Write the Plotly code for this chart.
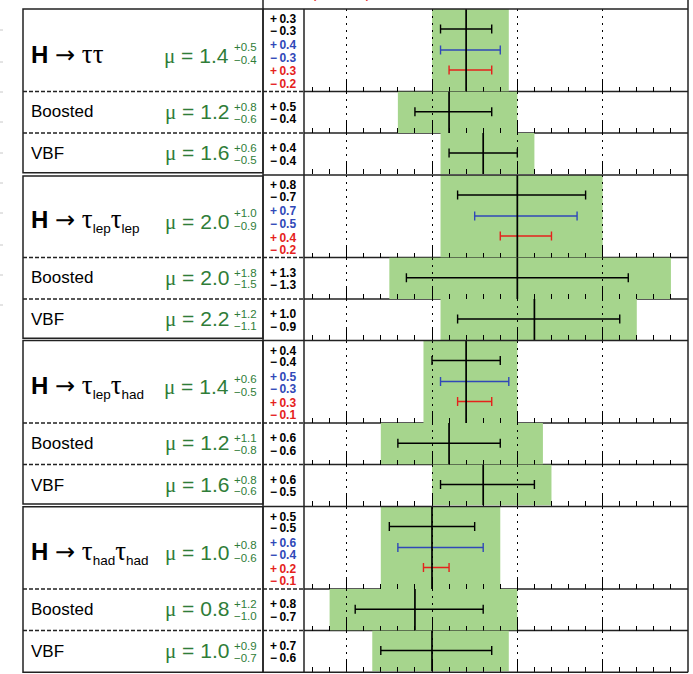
import plotly.graph_objects as go

# ---- signal strength per channel (combined row + Boosted + VBF categories) ----
SERIF = "font-family:Liberation Serif"
ARROW = '<span style="font-family:DejaVu Sans">→</span>'


def tau(sub=None):
    t = f'<span style="{SERIF};font-size:27px">τ</span>'
    if sub:
        t += f'<sub><span style="font-size:13.5px">{sub}</span></sub>'
    return t


channel_titles = [
    f"<b>H</b> {ARROW} {tau()}{tau()}",
    f"<b>H</b> {ARROW} {tau('lep')}{tau('lep')}",
    f"<b>H</b> {ARROW} {tau('lep')}{tau('had')}",
    f"<b>H</b> {ARROW} {tau('had')}{tau('had')}",
]
category_names = ["Boosted", "VBF"]

mu_comb = [1.4, 2.0, 1.4, 1.0]
tot_up_comb = [0.5, 1.0, 0.6, 0.8]
tot_dn_comb = [0.4, 0.9, 0.5, 0.6]
stat_up_comb = [0.3, 0.8, 0.4, 0.5]
stat_dn_comb = [0.3, 0.7, 0.4, 0.5]
syst_up_comb = [0.4, 0.7, 0.5, 0.6]
syst_dn_comb = [0.3, 0.5, 0.3, 0.4]
theo_up_comb = [0.3, 0.4, 0.3, 0.2]
theo_dn_comb = [0.2, 0.2, 0.1, 0.1]

mu_boosted = [1.2, 2.0, 1.2, 0.8]
tot_up_boosted = [0.8, 1.8, 1.1, 1.2]
tot_dn_boosted = [0.6, 1.5, 0.8, 1.0]
stat_up_boosted = [0.5, 1.3, 0.6, 0.8]
stat_dn_boosted = [0.4, 1.3, 0.6, 0.7]

mu_vbf = [1.6, 2.2, 1.6, 1.0]
tot_up_vbf = [0.6, 1.2, 0.8, 0.9]
tot_dn_vbf = [0.5, 1.1, 0.6, 0.7]
stat_up_vbf = [0.4, 1.0, 0.6, 0.7]
stat_dn_vbf = [0.4, 0.9, 0.5, 0.6]

x_range = [-0.5, 4.0]

# ---- page geometry (pixels) ----
W, H = 693, 674
PLOT_X0, PLOT_X1 = 304, 688
COL_X = 263
BOX_X0 = 23
group_tops = [9, 175, 340.5, 506.5]
box_tops = [9, 176, 340.5, 506.7]
box_bottoms = [172.7, 338.3, 504.0, 672.3]
MAIN_H, SUB1_H, SUB2_H = 82.5, 41.5, 41.0

GREEN_BAND = "#a6d58d"
GREEN_TXT = "#2f7d38"
BLUE = "#3048b8"
RED = "#e5221c"
LINE = "#222222"
FONT = "Liberation Sans, Arial, sans-serif"


def px(x):
    return x / W


def py(y):
    return 1 - y / H


fig = go.Figure()
shapes = []
annotations = []
layout_axes = {}


def add_row(n, top, h, mu, up, dn, bars):
    """One horizontal panel: total-uncertainty band, error bars and central line."""
    suffix = "" if n == 1 else str(n)
    xa, ya = "x" + suffix, "y" + suffix
    layout_axes["xaxis" + suffix] = dict(
        domain=[px(PLOT_X0), px(PLOT_X1)], anchor=ya, range=x_range,
        showticklabels=False, showline=False, zeroline=False,
        ticks="inside", ticklen=12, tickwidth=1.4, tickcolor="black",
        tick0=0, dtick=1,
        minor=dict(ticks="inside", ticklen=5, tickwidth=1.1, tickcolor="black",
                   dtick=0.2, tick0=0, showgrid=False),
        showgrid=True, gridcolor="black", gridwidth=1.2, griddash="2px,5px",
        fixedrange=True,
    )
    layout_axes["yaxis" + suffix] = dict(
        domain=[py(top + h), py(top)], anchor=xa, range=[h, 0],
        visible=False, fixedrange=True,
    )
    shapes.append(dict(type="rect", xref=xa, yref=ya, x0=mu - dn, x1=mu + up,
                       y0=0, y1=h, fillcolor=GREEN_BAND, line_width=0, layer="below"))
    for yoff, b_up, b_dn, col in bars:
        fig.add_trace(go.Scatter(
            x=[mu], y=[yoff], xaxis=xa, yaxis=ya, mode="markers",
            marker=dict(size=1, color="rgba(0,0,0,0)"),
            error_x=dict(type="data", symmetric=False, array=[b_up], arrayminus=[b_dn],
                         color=col, thickness=1.4, width=4.5),
            showlegend=False, hoverinfo="skip"))
    fig.add_trace(go.Scatter(
        x=[mu, mu], y=[0, h], xaxis=xa, yaxis=ya, mode="lines",
        line=dict(color="black", width=1.7), showlegend=False, hoverinfo="skip"))


def text(x, y, s, size, color="black", anchor="left"):
    annotations.append(dict(xref="paper", yref="paper", x=px(x), y=py(y), text=s,
                            showarrow=False, xanchor=anchor, yanchor="middle",
                            font=dict(family=FONT, size=size, color=color)))


def mu_label(top, mu, up, dn, c, s_up, s_dn):
    text(231, top + c, f'<span style="{SERIF}">μ</span> = {mu:.1f}', 21, GREEN_TXT, "right")
    text(231.5, top + s_up, f"+{up:.1f}", 11.5, GREEN_TXT)
    text(231.5, top + s_dn, f"−{dn:.1f}", 11.5, GREEN_TXT)


def num(v, sign):
    return f"<b>{sign}\u2009{v:.1f}</b>"


n = 1
for g in range(4):
    t0 = group_tops[g]
    t1 = t0 + MAIN_H
    t2 = t1 + SUB1_H
    t3 = t2 + SUB2_H

    # combined channel row
    add_row(n, t0, MAIN_H, mu_comb[g], tot_up_comb[g], tot_dn_comb[g], [
        (20, stat_up_comb[g], stat_dn_comb[g], "black"),
        (41, syst_up_comb[g], syst_dn_comb[g], BLUE),
        (61, theo_up_comb[g], theo_dn_comb[g], RED),
    ])
    n += 1
    text(29, t0 + 45, channel_titles[g], 24)
    mu_label(t0, mu_comb[g], tot_up_comb[g], tot_dn_comb[g], 46.5, 38.5, 51)
    for yoff, s, col in [(10, num(stat_up_comb[g], "+"), "black"),
                         (21.5, num(stat_dn_comb[g], "−"), "black"),
                         (36.5, num(syst_up_comb[g], "+"), BLUE),
                         (48.5, num(syst_dn_comb[g], "−"), BLUE),
                         (62.5, num(theo_up_comb[g], "+"), RED),
                         (74.5, num(theo_dn_comb[g], "−"), RED)]:
        text(267.5, t0 + yoff, s, 12, col)

    # Boosted and VBF categories
    for (top, h, name, mu, up, dn, su, sd) in [
        (t1, SUB1_H, category_names[0], mu_boosted[g], tot_up_boosted[g],
         tot_dn_boosted[g], stat_up_boosted[g], stat_dn_boosted[g]),
        (t2, SUB2_H, category_names[1], mu_vbf[g], tot_up_vbf[g],
         tot_dn_vbf[g], stat_up_vbf[g], stat_dn_vbf[g]),
    ]:
        add_row(n, top, h, mu, up, dn, [(h / 2 - 0.5, su, sd, "black")])
        n += 1
        text(29, top + 20.5, name, 17)
        mu_label(top, mu, up, dn, 20, 15, 27)
        text(267.5, top + 15, num(su, "+"), 12)
        text(267.5, top + 27.5, num(sd, "−"), 12)

    # separators between the three rows of a channel
    for yb in (t1, t2):
        shapes.append(dict(type="line", xref="paper", yref="paper",
                           x0=px(PLOT_X0), x1=px(PLOT_X1), y0=py(yb), y1=py(yb),
                           line=dict(color=LINE, width=1.4), layer="below"))
        shapes.append(dict(type="line", xref="paper", yref="paper",
                           x0=px(BOX_X0), x1=px(PLOT_X0), y0=py(yb), y1=py(yb),
                           line=dict(color=LINE, width=1.3, dash="4px,2px"), layer="above"))

    # channel box in the label column
    shapes.append(dict(type="rect", xref="paper", yref="paper",
                       x0=px(BOX_X0), x1=px(COL_X), y0=py(box_bottoms[g]), y1=py(box_tops[g]),
                       line=dict(color=LINE, width=1.5), layer="above"))

# channel boundaries across numbers column and plot area
for yb in group_tops + [group_tops[-1] + MAIN_H + SUB1_H + SUB2_H + 0.8]:
    shapes.append(dict(type="line", xref="paper", yref="paper",
                       x0=px(COL_X), x1=px(PLOT_X1), y0=py(yb), y1=py(yb),
                       line=dict(color=LINE, width=1.6), layer="above"))

# vertical frame lines
for xv, y_top in [(COL_X, 0), (PLOT_X0, 9), (PLOT_X1, 0)]:
    shapes.append(dict(type="line", xref="paper", yref="paper",
                       x0=px(xv), x1=px(xv), y0=py(y_top), y1=py(672.3),
                       line=dict(color=LINE, width=1.5), layer="above"))

# faint marks along the left margin
for ym in [30, 62, 92, 122, 153, 183, 213, 245, 275, 305]:
    shapes.append(dict(type="line", xref="paper", yref="paper",
                       x0=0, x1=px(3), y0=py(ym), y1=py(ym),
                       line=dict(color="#c8c8c8", width=1), layer="above"))

# header line above the panels (only its lower edge is on the page)
annotations.append(dict(xref="paper", yref="paper", x=px(341), y=py(2.5),
                        text="( Theo. )", showarrow=False, xanchor="center",
                        yanchor="bottom", font=dict(family=FONT, size=16, color=RED)))

fig.update_layout(
    width=W, height=H, margin=dict(l=0, r=0, t=0, b=0),
    paper_bgcolor="white", plot_bgcolor="rgba(0,0,0,0)",
    showlegend=False, shapes=shapes, annotations=annotations,
    **layout_axes,
)

fig.write_html("out.html")
